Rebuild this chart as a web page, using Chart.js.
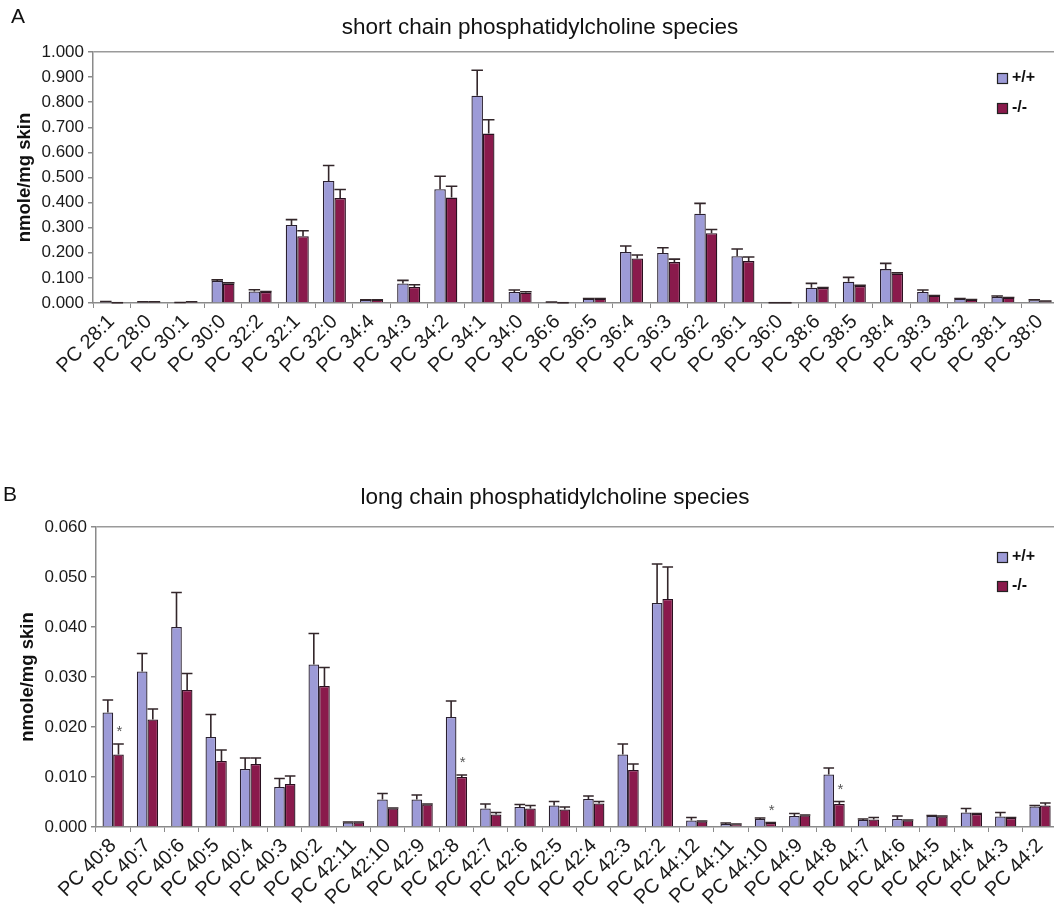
<!DOCTYPE html>
<html>
<head>
<meta charset="utf-8">
<script src="https://cdn.jsdelivr.net/npm/chart.js@4.4.0/dist/chart.umd.min.js"></script>
<style>
  html, body { margin: 0; padding: 0; background: #fff; overflow: hidden; width: 1054px; height: 907px; }
  .panel { position: absolute; left: 0; width: 1059px; }
  #panelA { top: 0; height: 400px; }
  #panelB { top: 470px; height: 437px; }
</style>
</head>
<body>
<div class="panel" id="panelA"><canvas id="chartA"></canvas></div>
<div class="panel" id="panelB"><canvas id="chartB"></canvas></div>
<script>
// ---- data: short chain species (panel A) ----
const shortLabels = ["PC 28:1", "PC 28:0", "PC 30:1", "PC 30:0", "PC 32:2", "PC 32:1", "PC 32:0", "PC 34:4", "PC 34:3",
  "PC 34:2", "PC 34:1", "PC 34:0", "PC 36:6", "PC 36:5", "PC 36:4", "PC 36:3", "PC 36:2", "PC 36:1", "PC 36:0",
  "PC 38:6", "PC 38:5", "PC 38:4", "PC 38:3", "PC 38:2", "PC 38:1", "PC 38:0"];
const shortWT = [0.004, 0.004, 0.001, 0.088, 0.046, 0.311, 0.486, 0.012, 0.078, 0.453, 0.826, 0.044, 0.003,
  0.017, 0.203, 0.199, 0.356, 0.186, 0.001, 0.061, 0.085, 0.135, 0.044, 0.017, 0.024, 0.011];
const shortWTErr = [0.002, 0.001, 0.001, 0.004, 0.007, 0.021, 0.062, 0.001, 0.012, 0.052, 0.101, 0.008, 0.001,
  0.001, 0.024, 0.021, 0.041, 0.029, 0.000, 0.017, 0.017, 0.023, 0.008, 0.001, 0.004, 0.002];
const shortKO = [0.001, 0.004, 0.004, 0.077, 0.044, 0.266, 0.418, 0.012, 0.064, 0.420, 0.675, 0.041, 0.001,
  0.017, 0.177, 0.163, 0.278, 0.167, 0.001, 0.060, 0.068, 0.117, 0.029, 0.013, 0.021, 0.007];
const shortKOErr = [0.000, 0.001, 0.001, 0.003, 0.002, 0.022, 0.034, 0.001, 0.009, 0.045, 0.055, 0.004, 0.000,
  0.001, 0.014, 0.012, 0.015, 0.016, 0.000, 0.002, 0.003, 0.003, 0.001, 0.001, 0.001, 0.001];

// ---- data: long chain species (panel B) ----
const longLabels = ["PC 40:8", "PC 40:7", "PC 40:6", "PC 40:5", "PC 40:4", "PC 40:3", "PC 40:2", "PC 42:11",
  "PC 42:10", "PC 42:9", "PC 42:8", "PC 42:7", "PC 42:6", "PC 42:5", "PC 42:4", "PC 42:3", "PC 42:2", "PC 44:12",
  "PC 44:11", "PC 44:10", "PC 44:9", "PC 44:8", "PC 44:7", "PC 44:6", "PC 44:5", "PC 44:4", "PC 44:3", "PC 44:2"];
const longWT = [0.0229, 0.0311, 0.0400, 0.0180, 0.0116, 0.0080, 0.0325, 0.0009, 0.0055, 0.0055, 0.0220, 0.0037,
  0.0040, 0.0043, 0.0056, 0.0145, 0.0448, 0.0013, 0.0006, 0.0016, 0.0022, 0.0105, 0.0014, 0.0016, 0.0022, 0.0029,
  0.0021, 0.0041];
const longWTErr = [0.0025, 0.0036, 0.0069, 0.0045, 0.0022, 0.0017, 0.0062, 0.0001, 0.0012, 0.0009, 0.0032, 0.0009,
  0.0005, 0.0008, 0.0006, 0.0021, 0.0078, 0.0006, 0.0002, 0.0002, 0.0005, 0.0013, 0.0002, 0.0006, 0.0001, 0.0008,
  0.0008, 0.0002];
const longKO = [0.0145, 0.0215, 0.0274, 0.0132, 0.0126, 0.0086, 0.0282, 0.0009, 0.0037, 0.0045, 0.0100, 0.0025,
  0.0037, 0.0035, 0.0047, 0.0114, 0.0456, 0.0011, 0.0005, 0.0008, 0.0023, 0.0046, 0.0015, 0.0013, 0.0021, 0.0026,
  0.0018, 0.0043];
const longKOErr = [0.0021, 0.0021, 0.0033, 0.0022, 0.0012, 0.0016, 0.0037, 0.0001, 0.0001, 0.0001, 0.0004, 0.0004,
  0.0006, 0.0005, 0.0004, 0.0012, 0.0064, 0.0001, 0.0001, 0.0001, 0.0001, 0.0005, 0.0004, 0.0001, 0.0001, 0.0001,
  0.0001, 0.0005];
const longKOStars = [0, 10, 19, 21]; // significant -/- bars

const seriesNames = ["+/+", "-/-"];
const FONT = "'Liberation Sans', Arial, sans-serif";

// error bars (upward only) + asterisks
const errorBars = {
  id: "errorBars",
  afterDatasetsDraw(chart) {
    const ctx = chart.ctx;
    const yScale = chart.scales.y;
    chart.data.datasets.forEach((ds, di) => {
      const meta = chart.getDatasetMeta(di);
      meta.data.forEach((bar, i) => {
        const top = yScale.getPixelForValue(ds.data[i] + ds.errors[i]);
        const half = bar.width / 2;
        ctx.save();
        ctx.strokeStyle = "#33262a";
        ctx.lineWidth = 1.6;
        ctx.beginPath();
        ctx.moveTo(bar.x, bar.y);
        ctx.lineTo(bar.x, top);
        ctx.moveTo(bar.x - half, top);
        ctx.lineTo(bar.x + half, top);
        ctx.stroke();
        if (ds.stars && ds.stars.includes(i)) {
          ctx.fillStyle = "#555";
          ctx.font = "15px " + FONT;
          ctx.textAlign = "center";
          ctx.textBaseline = "middle";
          ctx.fillText("*", bar.x + 1, top - 12);
        }
        ctx.restore();
      });
    });
  }
};

// panel letter, title and boxed legend
const panelText = {
  id: "panelText",
  afterDraw(chart, args, opts) {
    const ctx = chart.ctx;
    ctx.save();
    ctx.fillStyle = "#111";
    ctx.textBaseline = "middle";
    ctx.font = "21px " + FONT;
    ctx.textAlign = "left";
    ctx.fillText(opts.letter, opts.letterX, opts.letterY);
    ctx.textAlign = "center";
    ctx.font = "22.5px " + FONT;
    ctx.fillText(opts.title, opts.titleX, opts.titleY);

    ctx.font = "bold 16px " + FONT;
    ctx.textAlign = "left";
    chart.data.datasets.forEach((ds, i) => {
      const y = opts.legendY + i * opts.legendGap;
      ctx.fillStyle = ds.backgroundColor;
      ctx.fillRect(opts.legendX, y, 10, 10);
      ctx.strokeStyle = "#222";
      ctx.lineWidth = 1.2;
      ctx.strokeRect(opts.legendX + 0.5, y + 0.5, 10, 10);
      ctx.fillStyle = "#111";
      ctx.fillText(ds.label, opts.legendX + 15, y + 5);
    });
    ctx.restore();
  }
};

function makeChart(id, labels, wt, wtErr, ko, koErr, stars, cfg) {
  const ctx = document.getElementById(id).getContext("2d");
  return new Chart(ctx, {
    type: "bar",
    data: {
      labels: labels,
      datasets: [
        { label: seriesNames[0], data: wt, errors: wtErr, backgroundColor: "#9d9bd7",
          borderColor: "#2a2030", borderWidth: 1.3, categoryPercentage: 0.62, barPercentage: 1.0 },
        { label: seriesNames[1], data: ko, errors: koErr, stars: stars, backgroundColor: "#8a1a4c",
          borderColor: "#2a1020", borderWidth: 1.3, categoryPercentage: 0.62, barPercentage: 1.0 }
      ]
    },
    options: {
      responsive: true,
      maintainAspectRatio: false,
      animation: false,
      layout: { padding: { top: cfg.padTop, left: 0, right: 0, bottom: 0 } },
      plugins: {
        legend: { display: false },
        tooltip: { enabled: false },
        panelText: cfg.text
      },
      scales: {
        x: {
          grid: { display: true, drawOnChartArea: false, offset: true, tickLength: 5, color: "#8a8a8a", tickColor: "#8a8a8a" },
          border: { color: "#8a8a8a", width: 1.5 },
          ticks: { autoSkip: false, minRotation: 45, maxRotation: 45, padding: 2, color: "#1a1a1a",
            font: { family: FONT, size: 20 } },
          afterFit: s => { s.height = cfg.xHeight; }
        },
        y: {
          min: 0,
          max: cfg.yMax,
          grid: {
            drawOnChartArea: true,
            tickLength: 5,
            lineWidth: 1.5,
            color: c => (c.tick && Math.abs(c.tick.value - cfg.yMax) < 1e-9) ? "#9a9a9a" : "rgba(0,0,0,0)",
            tickColor: "#8a8a8a"
          },
          border: { color: "#8a8a8a", width: 1.5 },
          ticks: { stepSize: cfg.yStep, padding: 4, color: "#1a1a1a", font: { family: FONT, size: 17 },
            callback: v => Number(v).toFixed(3) },
          title: { display: true, text: "nmole/mg skin", color: "#111",
            font: { family: FONT, size: 18.5, weight: "bold" }, padding: { top: cfg.titlePad, bottom: 0 } },
          afterFit: s => { s.width = cfg.yWidth; }
        }
      }
    },
    plugins: [errorBars, panelText]
  });
}

makeChart("chartA", shortLabels, shortWT, shortWTErr, shortKO, shortKOErr, [], {
  padTop: 52, xHeight: 97, yWidth: 93, yMax: 1.0, yStep: 0.1, titlePad: 14,
  text: { letter: "A", letterX: 11, letterY: 17, title: "short chain phosphatidylcholine species",
    titleX: 540, titleY: 28, legendX: 997, legendY: 73, legendGap: 30 }
});

makeChart("chartB", longLabels, longWT, longWTErr, longKO, longKOErr, longKOStars, {
  padTop: 57, xHeight: 80, yWidth: 96, yMax: 0.06, yStep: 0.01, titlePad: 17,
  text: { letter: "B", letterX: 3, letterY: 25, title: "long chain phosphatidylcholine species",
    titleX: 555, titleY: 28, legendX: 997, legendY: 82, legendGap: 29 }
});
</script>
</body>
</html>
